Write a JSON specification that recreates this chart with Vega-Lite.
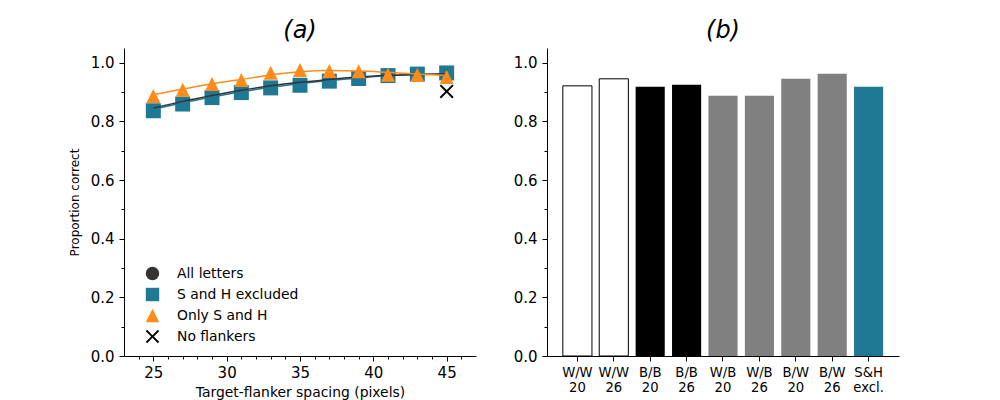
{
  "$schema": "https://vega.github.io/schema/vega-lite/v6.json",
  "background": "white",
  "padding": {"left": 68, "top": 19, "right": 5, "bottom": 3},
  "config": {
    "view": {"stroke": null},
    "font": "DejaVu Sans",
    "axis": {
      "grid": false,
      "domainColor": "black",
      "domainWidth": 1,
      "tickColor": "black",
      "tickWidth": 1,
      "labelColor": "black",
      "titleColor": "black",
      "labelFont": "DejaVu Sans",
      "titleFont": "DejaVu Sans",
      "labelFontSize": 15,
      "titleFontSize": 13.9,
      "titleFontWeight": "normal"
    },
    "title": {"font": "DejaVu Sans", "fontSize": 24, "fontStyle": "italic", "fontWeight": "normal", "color": "black", "anchor": "middle", "offset": 5}
  },
  "datasets": {
    "markers": [
      {"series": "S and H excluded", "spacing": 25, "p": 0.836},
      {"series": "S and H excluded", "spacing": 27, "p": 0.859},
      {"series": "S and H excluded", "spacing": 29, "p": 0.881},
      {"series": "S and H excluded", "spacing": 31, "p": 0.898},
      {"series": "S and H excluded", "spacing": 33, "p": 0.914},
      {"series": "S and H excluded", "spacing": 35, "p": 0.923},
      {"series": "S and H excluded", "spacing": 37, "p": 0.937},
      {"series": "S and H excluded", "spacing": 39, "p": 0.946},
      {"series": "S and H excluded", "spacing": 41, "p": 0.956},
      {"series": "S and H excluded", "spacing": 43, "p": 0.961},
      {"series": "S and H excluded", "spacing": 45, "p": 0.965},
      {"series": "Only S and H", "spacing": 25, "p": 0.886},
      {"series": "Only S and H", "spacing": 27, "p": 0.908},
      {"series": "Only S and H", "spacing": 29, "p": 0.927},
      {"series": "Only S and H", "spacing": 31, "p": 0.941},
      {"series": "Only S and H", "spacing": 33, "p": 0.966},
      {"series": "Only S and H", "spacing": 35, "p": 0.975},
      {"series": "Only S and H", "spacing": 37, "p": 0.972},
      {"series": "Only S and H", "spacing": 39, "p": 0.971},
      {"series": "Only S and H", "spacing": 41, "p": 0.959},
      {"series": "Only S and H", "spacing": 43, "p": 0.958},
      {"series": "Only S and H", "spacing": 45, "p": 0.951},
      {"series": "No flankers", "spacing": 45, "p": 0.902}
    ],
    "fits": [
      {"series": "S and H excluded", "spacing": 25, "p": 0.840},
      {"series": "S and H excluded", "spacing": 27, "p": 0.863},
      {"series": "S and H excluded", "spacing": 29, "p": 0.883},
      {"series": "S and H excluded", "spacing": 31, "p": 0.901},
      {"series": "S and H excluded", "spacing": 33, "p": 0.916},
      {"series": "S and H excluded", "spacing": 35, "p": 0.929},
      {"series": "S and H excluded", "spacing": 37, "p": 0.939},
      {"series": "S and H excluded", "spacing": 39, "p": 0.948},
      {"series": "S and H excluded", "spacing": 41, "p": 0.955},
      {"series": "S and H excluded", "spacing": 43, "p": 0.959},
      {"series": "S and H excluded", "spacing": 45, "p": 0.962},
      {"series": "All letters", "spacing": 25, "p": 0.845},
      {"series": "All letters", "spacing": 27, "p": 0.868},
      {"series": "All letters", "spacing": 29, "p": 0.888},
      {"series": "All letters", "spacing": 31, "p": 0.906},
      {"series": "All letters", "spacing": 33, "p": 0.921},
      {"series": "All letters", "spacing": 35, "p": 0.933},
      {"series": "All letters", "spacing": 37, "p": 0.943},
      {"series": "All letters", "spacing": 39, "p": 0.951},
      {"series": "All letters", "spacing": 41, "p": 0.957},
      {"series": "All letters", "spacing": 43, "p": 0.960},
      {"series": "All letters", "spacing": 45, "p": 0.961},
      {"series": "Only S and H", "spacing": 25, "p": 0.891},
      {"series": "Only S and H", "spacing": 27, "p": 0.910},
      {"series": "Only S and H", "spacing": 29, "p": 0.928},
      {"series": "Only S and H", "spacing": 31, "p": 0.943},
      {"series": "Only S and H", "spacing": 33, "p": 0.958},
      {"series": "Only S and H", "spacing": 35, "p": 0.969},
      {"series": "Only S and H", "spacing": 37, "p": 0.973},
      {"series": "Only S and H", "spacing": 39, "p": 0.972},
      {"series": "Only S and H", "spacing": 41, "p": 0.967},
      {"series": "Only S and H", "spacing": 43, "p": 0.961},
      {"series": "Only S and H", "spacing": 45, "p": 0.956}
    ],
    "bars": [
      {"cond": "W/W 20", "pair": "W/W", "p": 0.921},
      {"cond": "W/W 26", "pair": "W/W", "p": 0.945},
      {"cond": "B/B 20", "pair": "B/B", "p": 0.918},
      {"cond": "B/B 26", "pair": "B/B", "p": 0.925},
      {"cond": "W/B 20", "pair": "W/B", "p": 0.887},
      {"cond": "W/B 26", "pair": "W/B", "p": 0.887},
      {"cond": "B/W 20", "pair": "B/W", "p": 0.945},
      {"cond": "B/W 26", "pair": "B/W", "p": 0.962},
      {"cond": "S&H excl.", "pair": "S&H", "p": 0.918}
    ]
  },
  "spacing": 37,
  "hconcat": [
    {
      "width": 352,
      "height": 308,
      "title": {"text": "(a)"},
      "encoding": {
        "x": {
          "field": "spacing", "type": "quantitative",
          "scale": {"domain": [23, 47], "nice": false, "zero": false},
          "axis": {
            "title": "Target-flanker spacing (pixels)",
            "values": [24, 25, 26, 27, 28, 29, 30, 31, 32, 33, 34, 35, 36, 37, 38, 39, 40, 41, 42, 43, 44, 45, 46],
            "labelExpr": "datum.value % 5 == 0 ? datum.label : ''",
            "tickSize": {"condition": {"test": "datum.value % 5 == 0", "value": 5}, "value": 3},
            "labelPadding": 4,
            "titlePadding": 5,
            "labelFlush": false
          }
        },
        "y": {
          "field": "p", "type": "quantitative",
          "scale": {"domain": [0, 1.05], "nice": false},
          "axis": {
            "title": "Proportion correct",
            "titleFontSize": 12,
            "values": [0, 0.1, 0.2, 0.3, 0.4, 0.5, 0.6, 0.7, 0.8, 0.9, 1.0],
            "labelExpr": "round(datum.value * 10) % 2 == 0 ? format(datum.value, '.1f') : ''",
            "tickSize": {"condition": {"test": "round(datum.value * 10) % 2 == 0", "value": 5}, "value": 3},
            "labelPadding": 5,
            "titlePadding": 9,
            "labelFlush": false
          }
        }
      },
      "layer": [
        {
          "data": {"name": "markers"},
          "transform": [{"filter": "datum.series == 'S and H excluded'"}],
          "mark": {"type": "point", "filled": true, "opacity": 1, "size": 225},
          "encoding": {
            "color": {"field": "series", "type": "nominal",
              "scale": {"domain": ["All letters", "S and H excluded", "Only S and H", "No flankers"],
                        "range": ["#333333", "#1f7894", "#ff8c1a", "#000000"]},
              "legend": {"orient": "none", "legendX": 21, "legendY": 218, "title": null, "padding": 0,
                         "labelFontSize": 13.9, "labelFont": "DejaVu Sans", "labelColor": "black",
                         "symbolSize": 180, "rowPadding": 6, "labelOffset": 17, "symbolOpacity": 1}},
            "shape": {"field": "series", "type": "nominal",
              "scale": {"domain": ["All letters", "S and H excluded", "Only S and H", "No flankers"],
                        "range": ["circle", "square", "M0,-1L1,1L-1,1Z",
                                  "M-0.8,-1L0,-0.2L0.8,-1L1,-0.8L0.2,0L1,0.8L0.8,1L0,0.2L-0.8,1L-1,0.8L-0.2,0L-1,-0.8Z"]}}
          }
        },
        {
          "data": {"name": "fits"},
          "transform": [{"filter": "datum.series == 'S and H excluded'"}],
          "mark": {"type": "line", "color": "#1f7894", "strokeWidth": 1.5, "interpolate": "monotone"},
          "encoding": {}
        },
        {
          "data": {"name": "fits"},
          "transform": [{"filter": "datum.series == 'All letters'"}],
          "mark": {"type": "line", "color": "#333333", "strokeWidth": 1.5, "interpolate": "monotone"},
          "encoding": {}
        },
        {
          "data": {"name": "fits"},
          "transform": [{"filter": "datum.series == 'Only S and H'"}],
          "mark": {"type": "line", "color": "#ff8c1a", "strokeWidth": 1.5, "interpolate": "monotone"},
          "encoding": {}
        },
        {
          "data": {"name": "markers"},
          "transform": [{"filter": "datum.series != 'S and H excluded'"}],
          "mark": {"type": "point", "filled": true, "opacity": 1, "size": 196},
          "encoding": {
            "color": {"field": "series", "type": "nominal"},
            "shape": {"field": "series", "type": "nominal"}
          }
        }
      ]
    },
    {
      "width": 352,
      "height": 308,
      "title": {"text": "(b)"},
      "data": {"name": "bars"},
      "mark": {"type": "bar", "strokeWidth": 1},
      "encoding": {
        "x": {
          "field": "cond", "type": "nominal", "sort": null,
          "scale": {"paddingInner": 0.2, "paddingOuter": 0.435},
          "axis": {
            "title": null,
            "labelAngle": 0,
            "labelExpr": "split(datum.label, ' ')",
            "labelFontSize": 13.2,
            "labelLineHeight": 15,
            "tickSize": 5,
            "labelPadding": 5
          }
        },
        "y": {
          "field": "p", "type": "quantitative",
          "scale": {"domain": [0, 1.05], "nice": false},
          "axis": {
            "title": null,
            "values": [0, 0.1, 0.2, 0.3, 0.4, 0.5, 0.6, 0.7, 0.8, 0.9, 1.0],
            "labelExpr": "round(datum.value * 10) % 2 == 0 ? format(datum.value, '.1f') : ''",
            "tickSize": {"condition": {"test": "round(datum.value * 10) % 2 == 0", "value": 5}, "value": 3},
            "labelPadding": 5,
            "labelFlush": false
          }
        },
        "fill": {
          "field": "pair", "type": "nominal",
          "scale": {"domain": ["W/W", "B/B", "W/B", "B/W", "S&H"],
                    "range": ["#ffffff", "#000000", "#808080", "#808080", "#1f7894"]},
          "legend": null
        },
        "stroke": {"condition": {"test": "datum.pair == 'W/W'", "value": "#000000"}, "value": "transparent"}
      }
    }
  ]
}
